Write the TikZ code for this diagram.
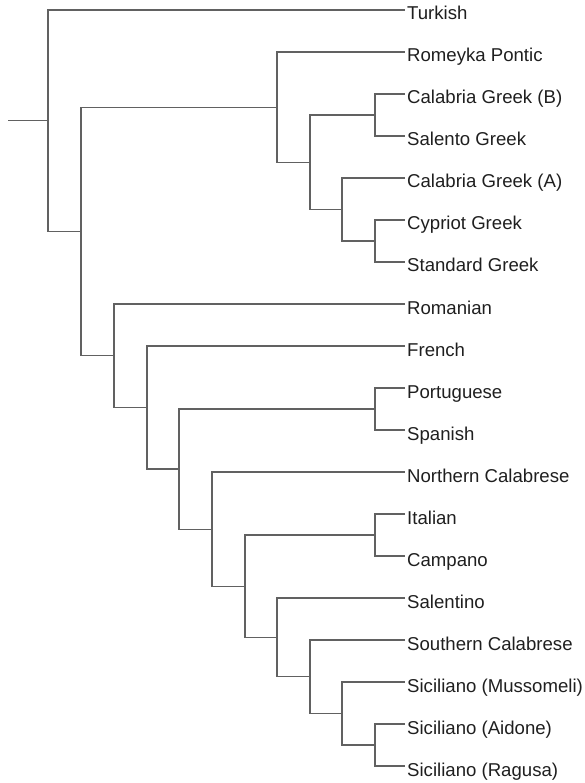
\documentclass[tikz,border=0pt]{standalone}
\usepackage{fontspec}
\setmainfont{Liberation Sans}
\usetikzlibrary{positioning}

\begin{document}
\begin{tikzpicture}[
    x=1pt, y=-1pt,
    % Styles
    branch/.style={draw=black!62, line width=1.1pt},
    leaf/.style={anchor=west, inner xsep=2pt, inner ysep=0pt, text height=20pt, text depth=0pt, text=black!88, font=\fontsize{18.6}{22}\selectfont},
]
\useasboundingbox (0,0) rectangle (584,783);

% Leaves
\node[leaf] (turkish)  at (405, 10)  {Turkish};
\node[leaf] (romeyka)  at (405, 52)  {Romeyka Pontic};
\node[leaf] (calgrb)   at (405, 94)  {Calabria Greek (B)};
\node[leaf] (salgr)    at (405, 136) {Salento Greek};
\node[leaf] (calgra)   at (405, 178) {Calabria Greek (A)};
\node[leaf] (cypgr)    at (405, 220) {Cypriot Greek};
\node[leaf] (stdgr)    at (405, 262) {Standard Greek};
\node[leaf] (romanian) at (405, 304) {Romanian};
\node[leaf] (french)   at (405, 346) {French};
\node[leaf] (portug)   at (405, 388) {Portuguese};
\node[leaf] (spanish)  at (405, 430) {Spanish};
\node[leaf] (ncal)     at (405, 472) {Northern Calabrese};
\node[leaf] (italian)  at (405, 514) {Italian};
\node[leaf] (campano)  at (405, 556) {Campano};
\node[leaf] (salent)   at (405, 598) {Salentino};
\node[leaf] (scal)     at (405, 640) {Southern Calabrese};
\node[leaf] (sicmus)   at (405, 682) {Siciliano (Mussomeli)};
\node[leaf] (sicaid)   at (405, 724) {Siciliano (Aidone)};
\node[leaf] (sicrag)   at (405, 766) {Siciliano (Ragusa)};

% Internal nodes
\coordinate (stub)  at (8, 120.8);
\coordinate (root)  at (48, 120.8);
\coordinate (inner) at (81, 231.5);

% Greek clade
\coordinate (gr0) at (277, 107.1);
\coordinate (gr1) at (310, 162.3);
\coordinate (gr2) at (375, 115);
\coordinate (gr3) at (342, 209.5);
\coordinate (gr4) at (375, 241);

% Romance clade
\coordinate (ro0)  at (114, 355.8);
\coordinate (ro1)  at (147, 407.5);
\coordinate (ro2)  at (179, 469);
\coordinate (ro3)  at (375, 409);
\coordinate (ro4)  at (212, 529.1);
\coordinate (ro5)  at (245, 586.2);
\coordinate (ro6)  at (375, 535);
\coordinate (ro7)  at (277, 637.4);
\coordinate (ro8)  at (310, 676.8);
\coordinate (ro9)  at (342, 713.5);
\coordinate (ro10) at (375, 745);

% Branches
\draw[branch] (stub) -- (root);
\draw[branch] (root) |- (turkish.west);
\draw[branch] (root) |- (inner);
\draw[branch] (inner) |- (gr0);
\draw[branch] (inner) |- (ro0);

\draw[branch] (gr0) |- (romeyka.west);
\draw[branch] (gr0) |- (gr1);
\draw[branch] (gr1) |- (gr2);
\draw[branch] (gr1) |- (gr3);
\draw[branch] (gr2) |- (calgrb.west);
\draw[branch] (gr2) |- (salgr.west);
\draw[branch] (gr3) |- (calgra.west);
\draw[branch] (gr3) |- (gr4);
\draw[branch] (gr4) |- (cypgr.west);
\draw[branch] (gr4) |- (stdgr.west);

\draw[branch] (ro0) |- (romanian.west);
\draw[branch] (ro0) |- (ro1);
\draw[branch] (ro1) |- (french.west);
\draw[branch] (ro1) |- (ro2);
\draw[branch] (ro2) |- (ro3);
\draw[branch] (ro2) |- (ro4);
\draw[branch] (ro3) |- (portug.west);
\draw[branch] (ro3) |- (spanish.west);
\draw[branch] (ro4) |- (ncal.west);
\draw[branch] (ro4) |- (ro5);
\draw[branch] (ro5) |- (ro6);
\draw[branch] (ro5) |- (ro7);
\draw[branch] (ro6) |- (italian.west);
\draw[branch] (ro6) |- (campano.west);
\draw[branch] (ro7) |- (salent.west);
\draw[branch] (ro7) |- (ro8);
\draw[branch] (ro8) |- (scal.west);
\draw[branch] (ro8) |- (ro9);
\draw[branch] (ro9) |- (sicmus.west);
\draw[branch] (ro9) |- (ro10);
\draw[branch] (ro10) |- (sicaid.west);
\draw[branch] (ro10) |- (sicrag.west);

\end{tikzpicture}
\end{document}
